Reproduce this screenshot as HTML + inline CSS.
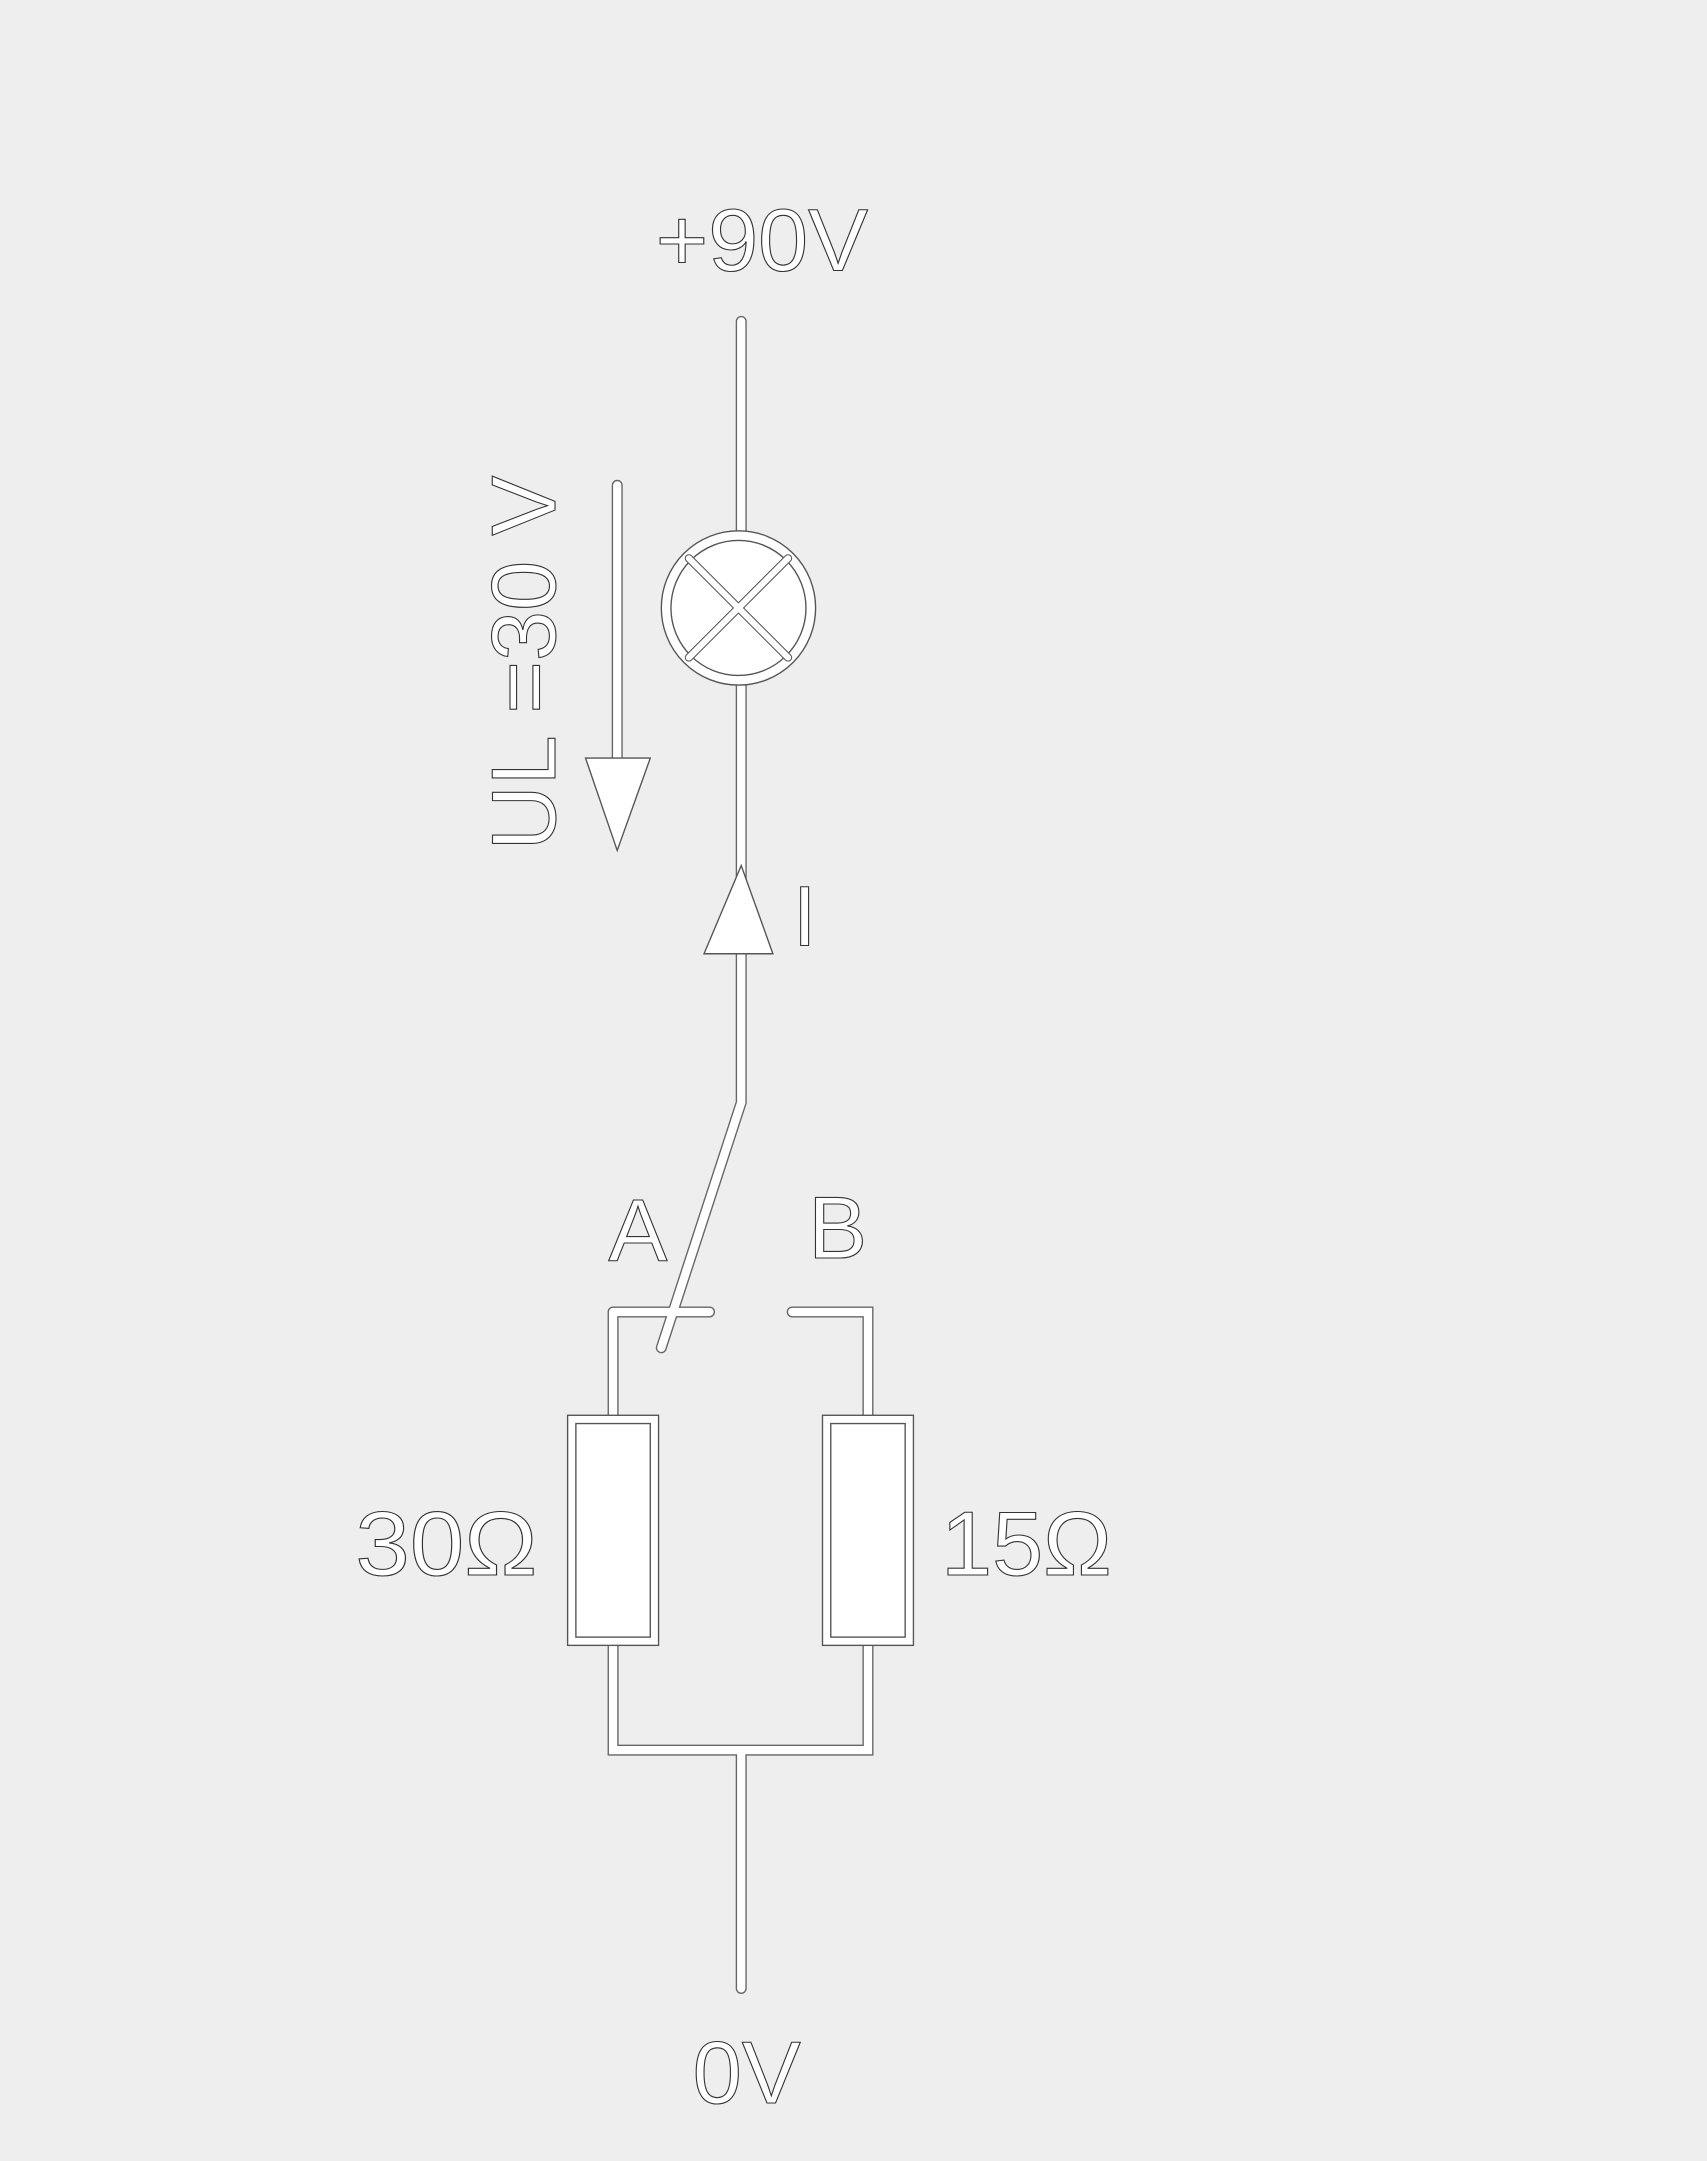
<!DOCTYPE html>
<html><head><meta charset="utf-8"><style>
html,body{margin:0;padding:0;background:#eeeeee;}
svg{display:block;}
text{font-family:"Liberation Sans",sans-serif;fill:#fff;stroke:#333;stroke-width:0.8;}
</style></head><body>
<svg width="1707" height="2161" viewBox="0 0 1239 1568">
<rect width="1239" height="1568" fill="#eeeeee"/>
<g id="wires-outline" stroke="#666" stroke-width="8" fill="none" stroke-linecap="round">
<path d="M538 233V388M538 496V800L480 978M445 952H515M445 952V1027M575 952H630V1027M445 1194V1270H630V1194M538 1270V1443M448 352V550"/>
</g>
<g id="wires" stroke="#fff" stroke-width="6" fill="none" stroke-linecap="round">
<path d="M538 233V388M538 496V800L480 978M445 952H515M445 952V1027M575 952H630V1027M445 1194V1270H630V1194M538 1270V1443M448 352V550"/>
</g>
<g>
<circle cx="536" cy="441" r="56" fill="#fff" stroke="#555" stroke-width="1"/>
<circle cx="536" cy="441" r="49" fill="#fff" stroke="#555" stroke-width="1"/>
<path d="M500 405L572 477M572 405L500 477" stroke="#555" stroke-width="6" stroke-linecap="round"/>
<path d="M500 405L572 477M572 405L500 477" stroke="#fff" stroke-width="4.5" stroke-linecap="round"/>
</g>
<polygon points="538,628 511,692 561,692" fill="#fff" stroke="#555" stroke-width="1"/>
<polygon points="448,617 425,550 472,550" fill="#fff" stroke="#555" stroke-width="1"/>
<g>
<rect x="412" y="1027" width="66" height="167" fill="#fff" stroke="#555" stroke-width="1"/>
<rect x="418" y="1033" width="54" height="155" fill="#fff" stroke="#555" stroke-width="1"/>
</g>
<g>
<rect x="597" y="1027" width="66" height="167" fill="#fff" stroke="#555" stroke-width="1"/>
<rect x="603" y="1033" width="54" height="155" fill="#fff" stroke="#555" stroke-width="1"/>
</g>
<text x="476" y="196" font-size="64" textLength="154" lengthAdjust="spacingAndGlyphs">+90V</text>
<text x="542" y="1526" font-size="64" text-anchor="middle">0V</text>
<text x="584" y="686" font-size="62" text-anchor="middle">I</text>
<text transform="translate(403,617) rotate(-90)" font-size="66" textLength="272" lengthAdjust="spacingAndGlyphs">UL =30 V</text>
<text x="463" y="915" font-size="64" text-anchor="middle">A</text>
<text x="608" y="913" font-size="64" text-anchor="middle">B</text>
<text x="258" y="1143" font-size="66" textLength="132" lengthAdjust="spacingAndGlyphs">30Ω</text>
<text x="683" y="1143" font-size="66" textLength="124" lengthAdjust="spacingAndGlyphs">15Ω</text>
</svg>
</body></html>
